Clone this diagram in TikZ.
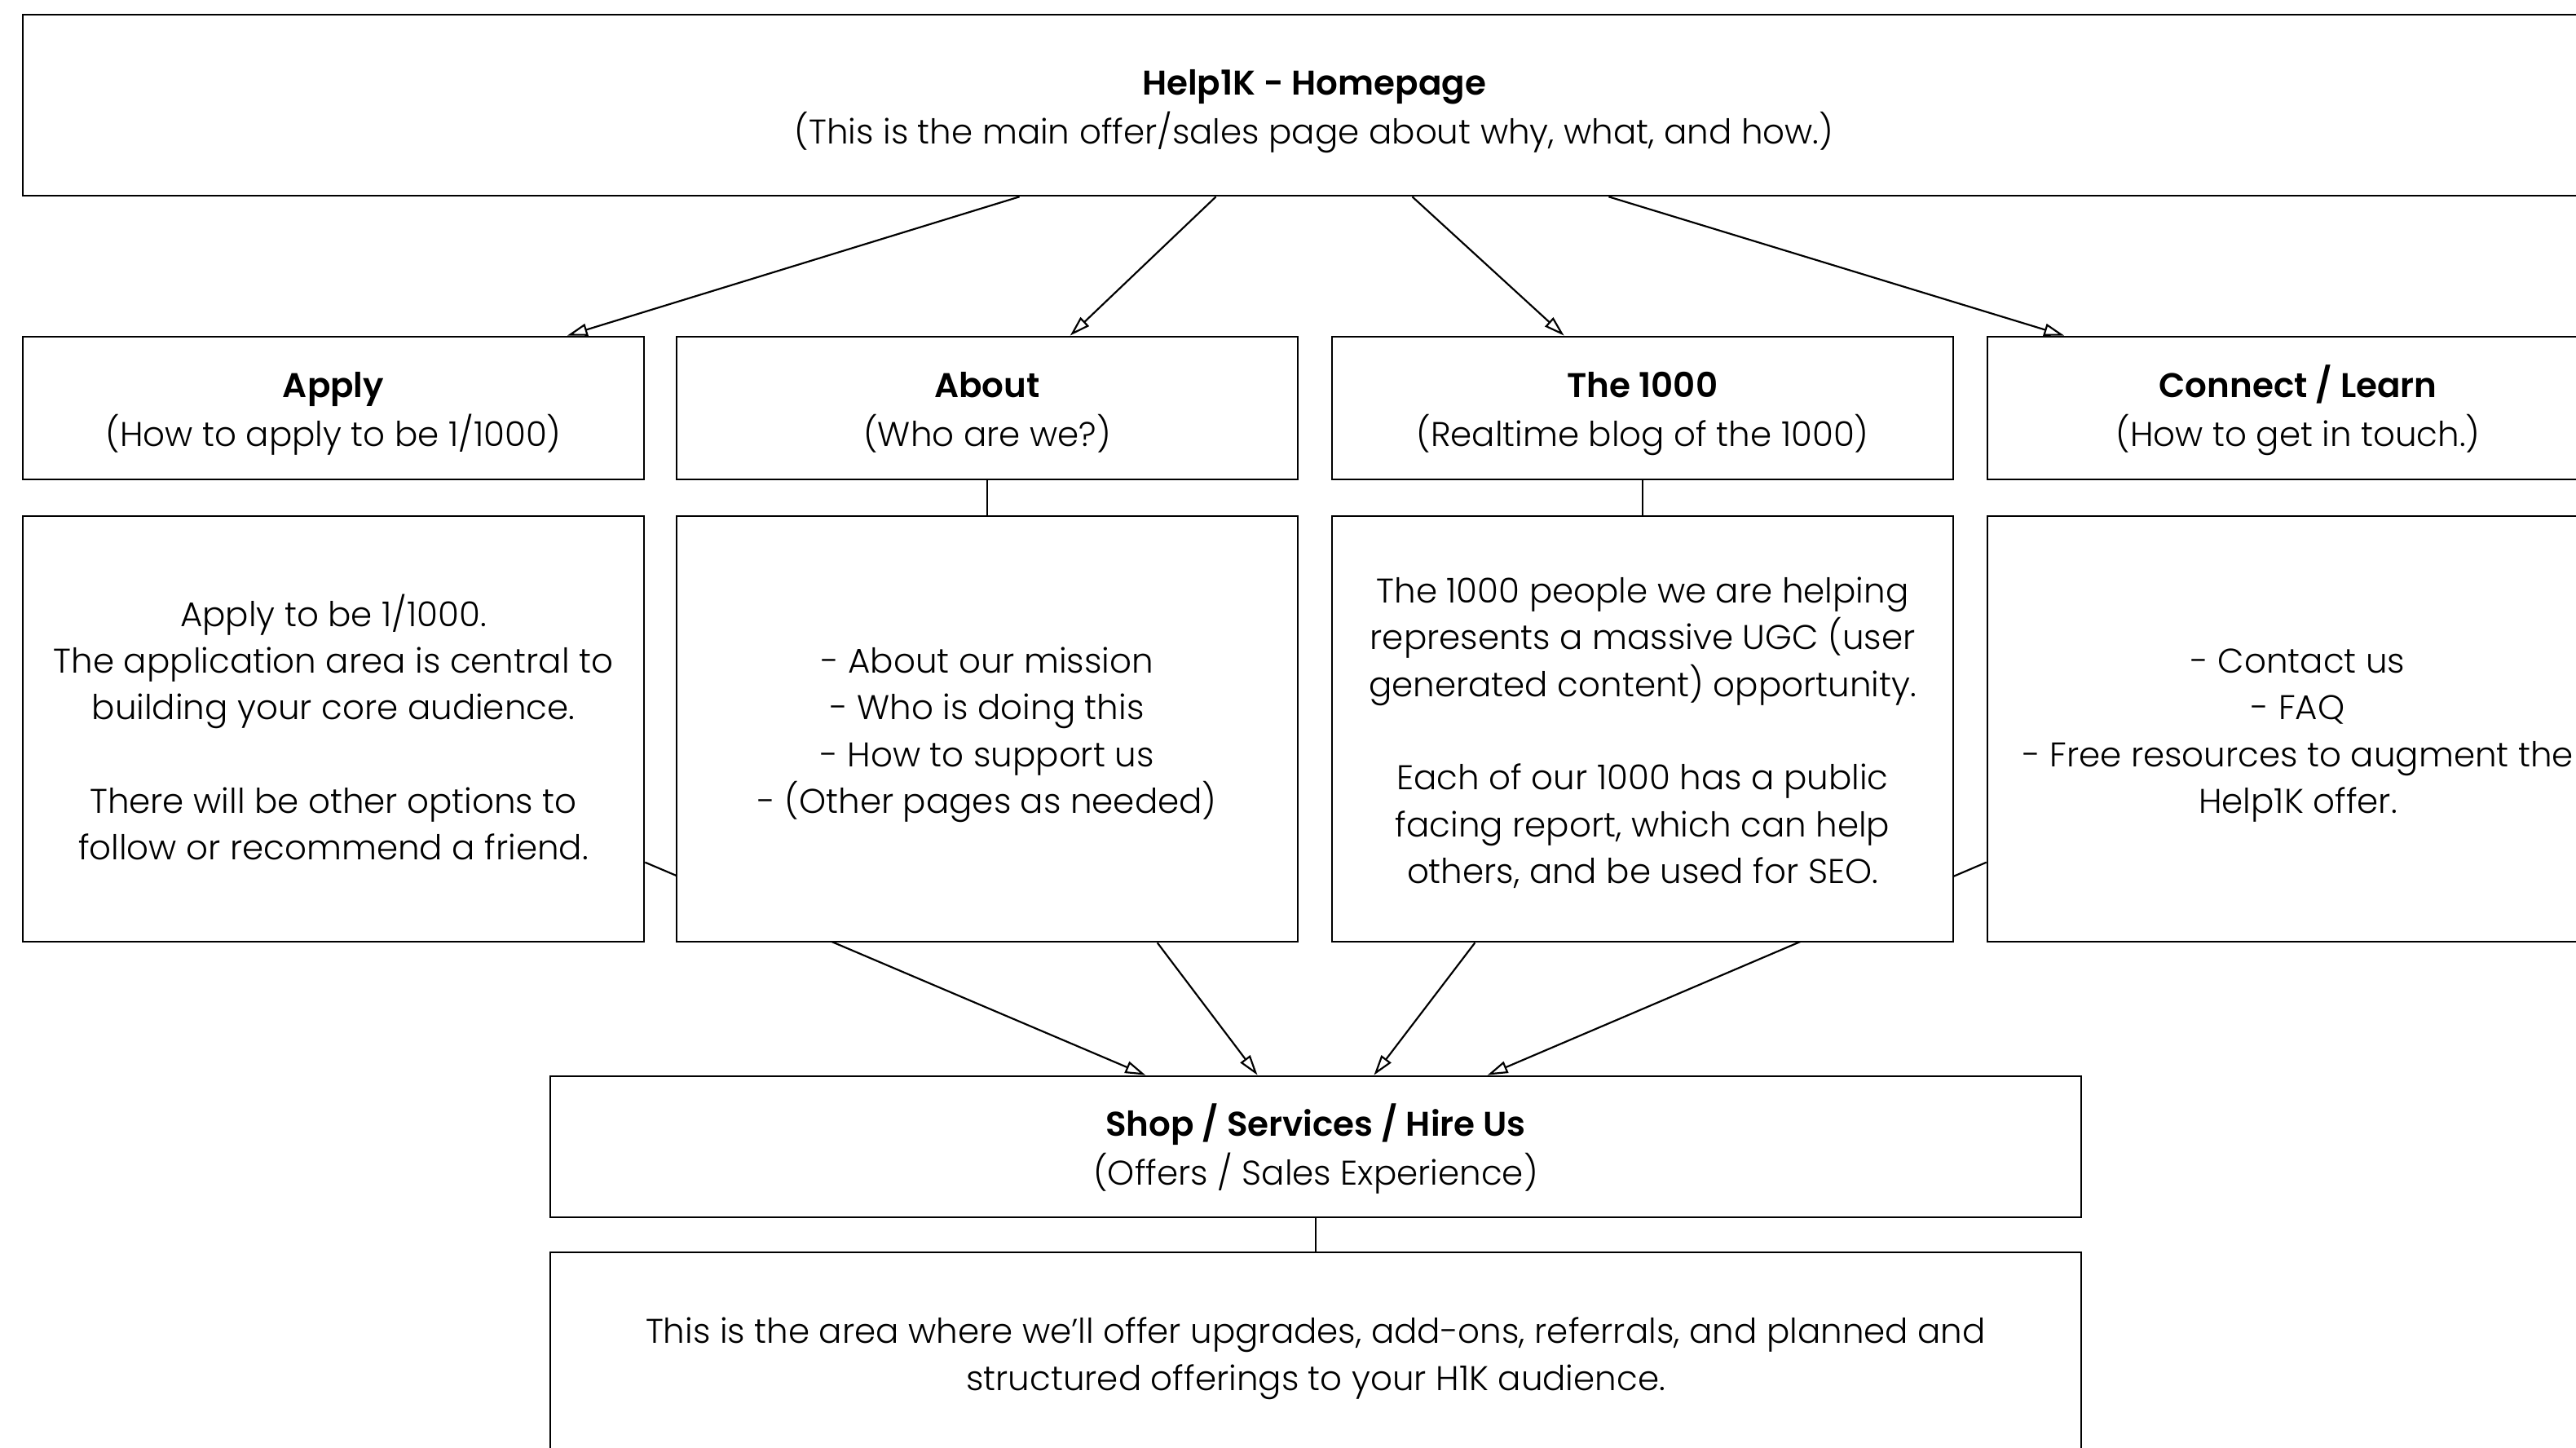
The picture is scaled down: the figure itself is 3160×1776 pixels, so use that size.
\documentclass[tikz,border=0pt]{standalone}
\usepackage{fontspec}
\setmainfont{Poppins Light}[BoldFont={Poppins SemiBold}]
\usetikzlibrary{arrows.meta,calc,backgrounds}
\newcommand\sline[1]{\strut#1}
\newcommand\fline[1]{\rule[-5.16pt]{0pt}{20.8pt}#1}
\begin{document}
\begin{tikzpicture}[x=0.3pt,y=-0.3pt,
  box/.style={draw=black, line width=0.8pt, fill=white, align=center, inner sep=0pt,
    font=\fontsize{12.6}{17.2}\selectfont},
  titlebox/.style={box, minimum width={762*0.3pt}, minimum height={175*0.3pt}},
  bodybox/.style={box, minimum width={762*0.3pt}, minimum height={522*0.3pt}},
  conn/.style={draw=black, line width=0.65pt, -{Triangle[open,length=7.5pt,width=4.5pt,line width=0.65pt]}},
  link/.style={draw=black, line width=0.65pt}]
\clip (0,0) rectangle (3160,1776);
\begin{pgfonlayer}{background}
\fill[white] (0,0) rectangle (3160,1776);
\end{pgfonlayer}
% top
\node[box, minimum width={3168*0.3pt}, minimum height={222*0.3pt}] (home) at (1612,129)
  {\fline{\textbf{Help1K - Homepage}}\\[0.8pt]\sline{(This is the main offer/sales page about why, what, and how.)}};
% row 1
\node[titlebox] (apply) at (409,500.5) {\fline{\textbf{Apply}}\\[0.8pt]\sline{(How to apply to be 1/1000)}};
\node[titlebox] (about) at (1211,500.5) {\fline{\textbf{About}}\\[0.8pt]\sline{(Who are we?)}};
\node[titlebox] (thousand) at (2015,500.5) {\fline{\textbf{The 1000}}\\[0.8pt]\sline{(Realtime blog of the 1000)}};
\node[titlebox] (connect) at (2819,500.5) {\fline{\textbf{Connect / Learn}}\\[0.8pt]\sline{(How to get in touch.)}};
% row 2
\node[bodybox] (applyb) at (409,894)
  {\fline{Apply to be 1/1000.}\\\sline{The application area is central to}\\\sline{building your core audience.}\\\sline{}\\\sline{There will be other options to}\\\sline{follow or recommend a friend.}};
\node[bodybox] (aboutb) at (1211,894)
  {\fline{- About our mission}\\\sline{- Who is doing this}\\\sline{- How to support us}\\\sline{- (Other pages as needed)}};
\node[bodybox] (thousandb) at (2015,894)
  {\fline{The 1000 people we are helping}\\\sline{represents a massive UGC (user}\\\sline{generated content) opportunity.}\\\sline{}\\\sline{Each of our 1000 has a public}\\\sline{facing report, which can help}\\\sline{others, and be used for SEO.}};
\node[bodybox] (connectb) at (2819,894)
  {\fline{- Contact us}\\\sline{- FAQ}\\\sline{- Free resources to augment the}\\\sline{Help1K offer.}};
% shop
\node[box, minimum width={1878*0.3pt}, minimum height={173*0.3pt}] (shop) at (1614,1406.5)
  {\fline{\textbf{Shop / Services / Hire Us}}\\[0.8pt]\sline{(Offers / Sales Experience)}};
\node[box, minimum width={1878*0.3pt}, minimum height={246*0.3pt}] (shopb) at (1614,1659)
  {\fline{This is the area where we’ll offer upgrades, add-ons, referrals, and planned and}\\\sline{structured offerings to your H1K audience.}};
% connectors from homepage
\draw[conn] ($(home.south west)!0.386!(home.south east)$) -- ($(apply.north west)!0.875!(apply.north east)$);
\draw[conn] ($(home.south west)!0.462!(home.south east)$) -- ($(about.north west)!0.633!(about.north east)$);
\draw[conn] ($(home.south west)!0.538!(home.south east)$) -- ($(thousand.north west)!0.374!(thousand.north east)$);
\draw[conn] ($(home.south west)!0.614!(home.south east)$) -- ($(connect.north west)!0.125!(connect.north east)$);
% title to body links
\draw[link] (about.south) -- (aboutb.north);
\draw[link] (thousand.south) -- (thousandb.north);
\draw[link] (shop.south) -- (shopb.north);
% body to shop
\begin{pgfonlayer}{background}
\draw[conn] ($(applyb.north east)!0.812!(applyb.south east)$) -- ($(shop.north west)!0.389!(shop.north east)$);
\draw[conn] ($(connectb.north west)!0.812!(connectb.south west)$) -- ($(shop.north west)!0.612!(shop.north east)$);
\end{pgfonlayer}
\draw[conn] ($(aboutb.south west)!0.773!(aboutb.south east)$) -- ($(shop.north west)!0.462!(shop.north east)$);
\draw[conn] ($(thousandb.south west)!0.231!(thousandb.south east)$) -- ($(shop.north west)!0.538!(shop.north east)$);
\end{tikzpicture}
\end{document}
